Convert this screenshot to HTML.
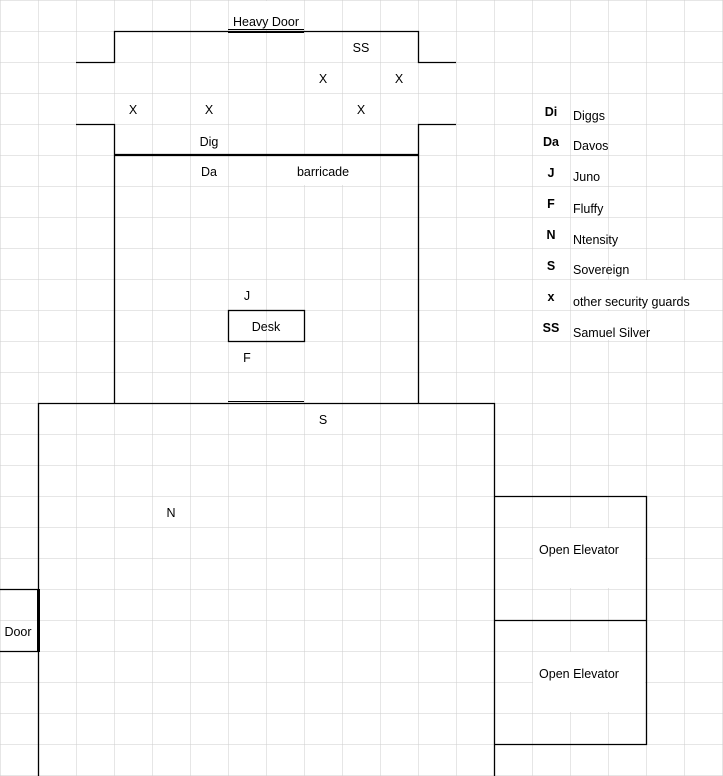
<!DOCTYPE html>
<html><head><style>
html,body{margin:0;padding:0;background:#fff;}
svg{display:block;}
text{font-family:"Liberation Sans",sans-serif;font-size:12.5px;fill:#000;}
.b{font-weight:bold;}
</style></head><body>
<svg width="723" height="776" viewBox="0 0 723 776" xmlns="http://www.w3.org/2000/svg">
<defs>
<pattern id="g" width="38" height="31" patternUnits="userSpaceOnUse" x="0.5" y="0.5">
<path d="M38 0V31M0 31H38" fill="none" stroke="#cdcdcd" stroke-width="1"/>
</pattern>
</defs>
<rect width="723" height="776" fill="url(#g)"/>
<rect x="571" y="94" width="37" height="29" fill="#fff"/>
<rect x="571" y="125" width="37" height="29" fill="#fff"/>
<rect x="571" y="249" width="37" height="29" fill="#fff"/>
<rect x="571" y="280" width="132" height="29" fill="#fff"/>
<rect x="571" y="311" width="75" height="29" fill="#fff"/>
<rect x="571" y="218" width="37" height="29" fill="#fff"/>
<rect x="571" y="187" width="37" height="29" fill="#fff"/>
<rect x="533" y="528" width="112" height="60" fill="#fff"/>
<rect x="533" y="652" width="112" height="60" fill="#fff"/>
<rect x="229" y="1" width="75" height="29" fill="#fff"/>
<rect x="267" y="156" width="113" height="29" fill="#fff"/>

<g stroke="#000" stroke-width="1.3" fill="none">
<path d="M76 62.5H114.5V31.5H418.5V62.5H456"/>
<path d="M76 124.5H114.5V403M456 124.5H418.5V403"/>
<path d="M114 155H419" stroke-width="2.2"/>
<path d="M228 29.5H304M228 32.5H304" stroke-width="1"/>
<rect x="228.5" y="310.5" width="76" height="31"/>
<path d="M38.5 776V403.5H494.5V776"/>
<path d="M228 401.5H304" stroke-width="1"/>
<path d="M494.5 496.5H646.5V744.5H494.5M494.5 620.5H646.5"/>
<path d="M0 589.5H38.5M0 651.5H38.5"/>
<path d="M38.5 589V652" stroke-width="3"/>
</g>

<g text-anchor="middle">
<text x="266" y="26">Heavy Door</text>
<text x="361" y="52">SS</text>
<text x="323" y="83">X</text>
<text x="399" y="83">X</text>
<text x="133" y="114">X</text>
<text x="209" y="114">X</text>
<text x="361" y="114">X</text>
<text x="209" y="146">Dig</text>
<text x="209" y="176">Da</text>
<text x="323" y="176">barricade</text>
<text x="247" y="300">J</text>
<text x="266" y="331">Desk</text>
<text x="247" y="362">F</text>
<text x="323" y="424">S</text>
<text x="171" y="517">N</text>
<text x="579" y="554">Open Elevator</text>
<text x="579" y="678">Open Elevator</text>
<text x="18" y="636">Door</text>
<text class="b" x="551" y="116">Di</text>
<text class="b" x="551" y="146">Da</text>
<text class="b" x="551" y="177">J</text>
<text class="b" x="551" y="208">F</text>
<text class="b" x="551" y="239">N</text>
<text class="b" x="551" y="270">S</text>
<text class="b" x="551" y="301">x</text>
<text class="b" x="551" y="332">SS</text>
</g>
<text x="573" y="120">Diggs</text>
<text x="573" y="150">Davos</text>
<text x="573" y="181">Juno</text>
<text x="573" y="213">Fluffy</text>
<text x="573" y="244">Ntensity</text>
<text x="573" y="274">Sovereign</text>
<text x="573" y="306">other security guards</text>
<text x="573" y="337">Samuel Silver</text>
</svg>
</body></html>
